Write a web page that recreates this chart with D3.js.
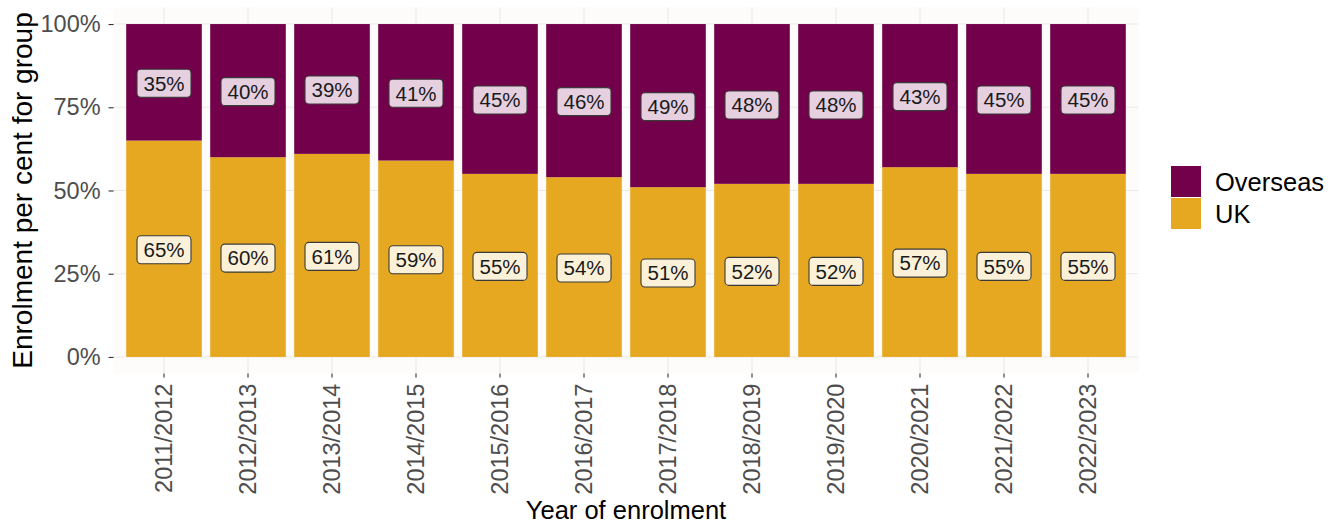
<!DOCTYPE html>
<html>
<head>
<meta charset="utf-8">
<script src="https://cdn.jsdelivr.net/npm/d3@7"></script>
<style>
  body { margin: 0; background: #ffffff; }
  svg { display: block; font-family: "Liberation Sans", Arial, sans-serif; }
</style>
</head>
<body>
<svg id="chart" width="1330" height="524"></svg>
<script>
// Enrolment share by year, UK vs overseas (percent)
const years = ["2011/2012","2012/2013","2013/2014","2014/2015","2015/2016","2016/2017",
               "2017/2018","2018/2019","2019/2020","2020/2021","2021/2022","2022/2023"];
const ukShare       = [65, 60, 61, 59, 55, 54, 51, 52, 52, 57, 55, 55];
const overseasShare = [35, 40, 39, 41, 45, 46, 49, 48, 48, 43, 45, 45];
const yTicks = [0, 25, 50, 75, 100];
const groups = ["Overseas", "UK"];

const colours = { Overseas: "#72004a", UK: "#e5a820" };
const labelFill = { Overseas: "#e6d0df", UK: "#fbf1d8" };

const svg = d3.select("#chart");
const panel = { left: 113.6, right: 1138.4, top: 7.4, bottom: 373.6 };

// discrete x with ggplot-like 0.6 expansion on each side
const n = years.length;
const xLin = d3.scaleLinear().domain([0.4, n + 0.6]).range([panel.left, panel.right]);
const x = d3.scaleBand().domain(years)
  .range([xLin(0.5), xLin(n + 0.5)]).paddingInner(0.1).paddingOuter(0.05);
const y = d3.scaleLinear().domain([-5, 105]).range([panel.bottom, panel.top]);

// panel background and grid
svg.append("rect").attr("x", panel.left).attr("y", panel.top)
  .attr("width", panel.right - panel.left).attr("height", panel.bottom - panel.top)
  .attr("fill", "#fdfcfb");
const grid = svg.append("g").attr("stroke", "#ebe9e7").attr("stroke-width", 1.1);
grid.selectAll(".gy").data(yTicks).join("line")
  .attr("x1", panel.left).attr("x2", panel.right)
  .attr("y1", d => y(d)).attr("y2", d => y(d));
grid.selectAll(".gx").data(years).join("line")
  .attr("y1", panel.top).attr("y2", panel.bottom)
  .attr("x1", d => x(d) + x.bandwidth() / 2).attr("x2", d => x(d) + x.bandwidth() / 2);

// stacked bars
const rows = years.map((yr, i) => ({ year: yr, UK: ukShare[i], Overseas: overseasShare[i] }));
const stack = d3.stack().keys(["UK", "Overseas"])(rows);
const layers = svg.append("g").selectAll("g").data(stack).join("g")
  .attr("fill", d => colours[d.key]);
layers.selectAll("rect").data(d => d).join("rect")
  .attr("x", d => x(d.data.year))
  .attr("width", x.bandwidth())
  .attr("y", d => y(d[1]))
  .attr("height", d => y(d[0]) - y(d[1]));

// value labels centred in each segment
const labels = svg.append("g");
stack.forEach(layer => {
  layer.forEach(d => {
    const cx = x(d.data.year) + x.bandwidth() / 2;
    const cy = y((d[0] + d[1]) / 2) + 1;
    const g = labels.append("g").attr("transform", `translate(${cx},${cy})`);
    const w = 54, h = 28;
    g.append("rect").attr("x", -w / 2).attr("y", -h / 2).attr("width", w).attr("height", h)
      .attr("rx", 4).attr("fill", labelFill[layer.key])
      .attr("stroke", "#3a3a3a").attr("stroke-width", 1.1);
    g.append("text").attr("text-anchor", "middle").attr("dy", "0.36em")
      .attr("font-size", 20.5).attr("fill", "#1a1a1a")
      .text(d.data[layer.key] + "%");
  });
});

// y axis
const yAxis = svg.append("g").attr("transform", `translate(${panel.left},0)`)
  .call(d3.axisLeft(y).tickValues(yTicks).tickFormat(d => d + "%").tickSize(5).tickPadding(8));
yAxis.select(".domain").remove();
yAxis.selectAll("line").attr("stroke", "#333").attr("stroke-width", 1.1);
yAxis.selectAll("text").attr("font-size", 23.5).attr("fill", "#4d4d4d")
  .attr("font-family", "Liberation Sans, Arial, sans-serif");

// x axis
const xAxis = svg.append("g").attr("transform", `translate(0,${panel.bottom})`)
  .call(d3.axisBottom(x).tickSize(4).tickPadding(5));
xAxis.select(".domain").remove();
xAxis.selectAll("line").attr("stroke", "#333").attr("stroke-width", 1.1);
xAxis.selectAll("text").attr("font-size", 23.5).attr("fill", "#4d4d4d")
  .attr("font-family", "Liberation Sans, Arial, sans-serif")
  .attr("transform", "rotate(-90)")
  .attr("text-anchor", "end").attr("x", -10).attr("y", 0).attr("dy", "0.35em");

// axis titles
svg.append("text").attr("x", (panel.left + panel.right) / 2).attr("y", 519)
  .attr("text-anchor", "middle").attr("font-size", 25.5).attr("fill", "#000")
  .text("Year of enrolment");
svg.append("text").attr("transform", `translate(32,${(panel.top + panel.bottom) / 2}) rotate(-90)`)
  .attr("text-anchor", "middle").attr("font-size", 28).attr("fill", "#000")
  .text("Enrolment per cent for group");

// legend
const legend = svg.append("g").attr("transform", "translate(1171,166)");
groups.forEach((gname, i) => {
  const row = legend.append("g").attr("transform", `translate(0,${i * 32})`);
  row.append("rect").attr("width", 30).attr("height", 31).attr("fill", colours[gname]);
  row.append("text").attr("x", 44).attr("y", 16).attr("dy", "0.36em")
    .attr("font-size", 25.5).attr("fill", "#000").text(gname);
});
</script>
</body>
</html>
